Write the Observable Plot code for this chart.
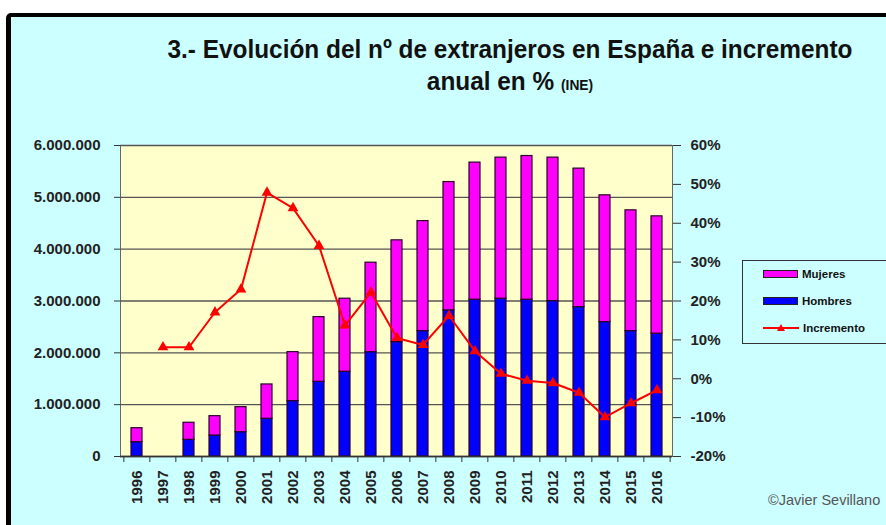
<!DOCTYPE html>
<html>
<head>
<meta charset="utf-8">
<script src="https://cdn.jsdelivr.net/npm/d3@7"></script>
<script src="https://cdn.jsdelivr.net/npm/@observablehq/plot@0.6"></script>
<style>
  body { margin:0; background:#fff; }
  #wrap { position:relative; width:886px; height:525px; overflow:hidden; font-family:"Liberation Sans", Arial, sans-serif; }
  #frame { position:absolute; left:6px; top:13px; width:900px; height:508px; background:#CCFFFF; border-left:5px solid #000; border-top:4px solid #000; border-top-left-radius:5px; }
  #chart { position:absolute; left:0; top:0; }
  .t1 { position:absolute; left:0; width:1020px; text-align:center; font-family:"Liberation Sans Narrow","Arial Narrow","Liberation Sans",Arial,sans-serif; font-weight:bold; color:#111; white-space:nowrap; transform:scaleX(0.92); transform-origin:510px 0; }
  #legend { position:absolute; left:742px; top:260px; width:160px; height:82px; border:1px solid #333; background:#CCFFFF; }
  .li { position:absolute; left:20px; font-size:11.5px; font-weight:bold; color:#111; height:14px; line-height:14px; white-space:nowrap; }
  .sw { display:inline-block; width:33px; height:6px; border:1.5px solid #222; vertical-align:middle; margin-right:4px; position:relative; top:-1px; }
  #copy { position:absolute; left:768px; top:492px; font-size:14.5px; color:#555; white-space:nowrap; }
</style>
</head>
<body>
<div id="wrap">
  <div id="frame"></div>
  <div id="chart"></div>
  <div class="t1" style="top:34px;font-size:26.5px;">3.- Evolución del nº de extranjeros en España e incremento</div>
  <div class="t1" style="top:66px;font-size:26.5px;">anual en % <span style="font-size:15px">(INE)</span></div>
  <div id="legend">
    <div class="li" style="top:6px"><span class="sw" style="background:#FF00FF"></span>Mujeres</div>
    <div class="li" style="top:33px"><span class="sw" style="background:#0000FF"></span>Hombres</div>
    <div class="li" style="top:60px"><svg width="36" height="10" style="vertical-align:middle;margin-right:4px;position:relative;top:-1px"><line x1="0" y1="5" x2="36" y2="5" stroke="#FF0000" stroke-width="2"/><path d="M18,1 L22,8 L14,8 Z" fill="#FF0000"/></svg>Incremento</div>
  </div>
  <div id="copy">©Javier Sevillano</div>
</div>
<script>
const years = ["1996","1997","1998","1999","2000","2001","2002","2003","2004","2005","2006","2007","2008","2009","2010","2011","2012","2013","2014","2015","2016"];
const totales = [546000,null,651000,778000,952000,1390000,2013000,2689000,3044000,3739000,4170000,4542000,5295000,5670000,5766000,5797000,5766000,5554000,5039000,4749000,4633000];
const hombres = [276000,null,322000,405000,469000,728000,1068000,1441000,1635000,2013000,2207000,2419000,2819000,3025000,3044000,3025000,2998000,2882000,2593000,2419000,2369000];
const incremento = [null,8.1,8.1,17.1,23.0,47.9,43.9,34.2,13.7,22.2,10.5,8.7,16.2,7.1,1.3,-0.5,-1.1,-3.6,-9.9,-6.3,-2.9];
const leftTicks = [0,1000000,2000000,3000000,4000000,5000000,6000000];
const pctTicks = [-20,-10,0,10,20,30,40,50,60];
const series = ["Mujeres","Hombres"];
const colors = ["#FF00FF","#0000FF"];

const YMAX = 6000000;
const pctToCount = p => (p + 20) / 80 * YMAX;
const countToPct = c => c / YMAX * 80 - 20;

const bars = [];
years.forEach((y, i) => {
  if (totales[i] == null) return;
  bars.push({year: y, sexo: "Hombres", valor: hombres[i]});
  bars.push({year: y, sexo: "Mujeres", valor: totales[i] - hombres[i]});
});
const line = years.map((y, i) => ({year: y, pct: incremento[i]})).filter(d => d.pct != null);

const fmt = d => d3.format(",")(d).replace(/,/g, ".");
const half = 552 / 21 / 2;

const chart = Plot.plot({
  width: 886, height: 525,
  marginLeft: 120, marginRight: 214, marginTop: 145, marginBottom: 69,
  style: {background: "transparent", fontFamily: "'Liberation Sans', Arial, sans-serif", fontSize: "15px", fontWeight: "bold", color: "#222"},
  x: {type: "band", domain: years, paddingInner: 0.58, paddingOuter: 0.29, label: null},
  y: {domain: [0, YMAX], label: null},
  color: {domain: series, range: colors},
  marks: [
    Plot.frame({fill: "#FFFFCC", stroke: "#666"}),
    Plot.gridY({ticks: leftTicks, stroke: "#555", strokeOpacity: 1, strokeWidth: 1.3}),
    Plot.barY(bars, {x: "year", y: "valor", fill: "sexo", order: ["Hombres","Mujeres"], stroke: "#2a002a", strokeWidth: 1.2}),
    Plot.line(line, {x: "year", y: d => pctToCount(d.pct), stroke: "#FF0000", strokeWidth: 2}),
    Plot.dot(line, {x: "year", y: d => pctToCount(d.pct), symbol: "triangle", fill: "#FF0000", r: 4}),
    Plot.ruleY([0], {stroke: "#333", strokeWidth: 1.3}),
    Plot.axisY({anchor: "left", ticks: leftTicks, tickFormat: fmt, tickSize: 6, tickPadding: 14, stroke: "#333"}),
    Plot.axisY({anchor: "right", ticks: pctTicks.map(pctToCount), tickFormat: d => Math.round(countToPct(d)) + "%", tickSize: 8, tickPadding: 10, stroke: "#333"}),
    Plot.axisX({anchor: "bottom", tickRotate: -90, tickSize: 0, tickPadding: 14}),
    Plot.axisX({anchor: "bottom", tickSize: 6, tickFormat: () => "", dx: -half, stroke: "#333"}),
    Plot.axisX({anchor: "bottom", ticks: ["2016"], tickSize: 6, tickFormat: () => "", dx: half, stroke: "#333"})
  ]
});
document.getElementById("chart").appendChild(chart);
</script>
</body>
</html>
